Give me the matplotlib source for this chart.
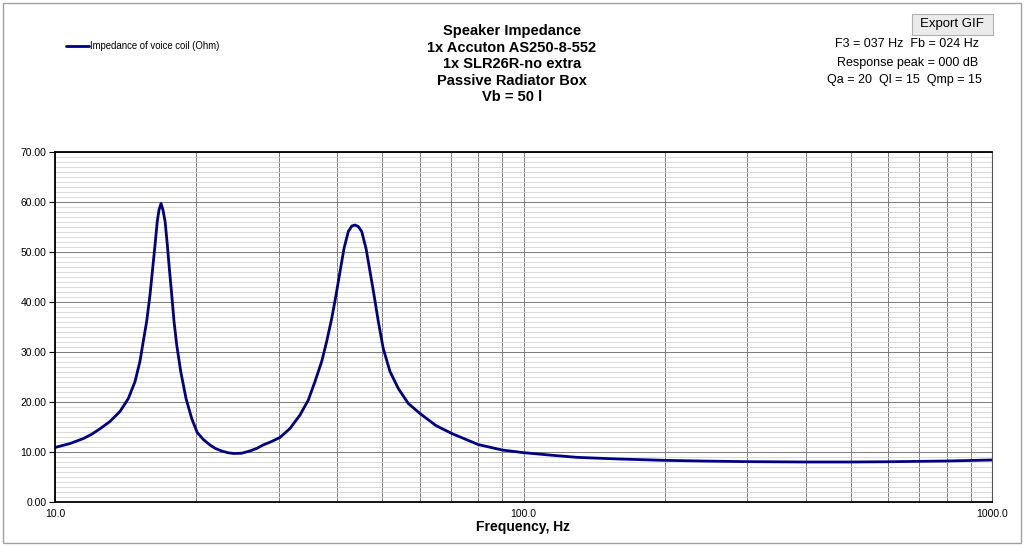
import numpy as np
import matplotlib
matplotlib.use("Agg")
from matplotlib import pyplot as plt
from matplotlib.patches import Rectangle
from matplotlib.ticker import MultipleLocator, FixedLocator, NullFormatter, FormatStrFormatter

plt.rcParams['font.family'] = ['Liberation Sans', 'DejaVu Sans']

# values (Hz, Ohm)
freq = [10.0, 10.77, 11.5, 12.0, 12.5, 13.1, 13.76, 14.34, 14.82, 15.18, 15.43, 15.69, 15.95,
        16.16, 16.35, 16.53, 16.67, 16.84, 17.0, 17.18, 17.37, 17.54, 17.75, 17.95,
        18.19, 18.55, 19.04, 19.58, 20.12, 20.73, 21.42, 22.0, 22.7, 23.4, 24.1, 25.0,
        26.06, 27.0, 27.8, 29.0, 30.2, 31.74, 33.34, 34.73, 35.89, 37.09, 38.01, 38.96,
        39.8, 40.59, 41.39, 42.27, 43.0, 43.69, 44.4, 45.15, 46.12, 47.03, 47.97, 48.99,
        50.19, 51.88, 54.05, 56.77, 60.13, 65.0, 70.3, 80.0, 90.0, 100.0,
        115.0, 130.0, 160.0, 200.0, 250.0, 300.0, 400.0, 500.0, 600.0, 800.0, 1000.0]
impedance = [10.9, 11.7, 12.7, 13.6, 14.7, 16.1, 18.1, 20.7, 24.1, 28.1, 32.1, 36.1, 41.4,
             46.7, 51.4, 56.1, 58.4, 59.7, 58.4, 56.1, 51.4, 46.7, 41.4, 36.1,
             31.4, 26.1, 20.7, 16.7, 13.9, 12.5, 11.4, 10.7, 10.2, 9.85, 9.7, 9.75,
             10.2, 10.75, 11.4, 12.1, 12.9, 14.7, 17.4, 20.4, 24.1, 28.1, 32.1, 36.7,
             41.4, 46.1, 50.7, 54.1, 55.2, 55.4, 55.1, 54.1, 50.7, 46.1, 41.4, 36.1,
             30.7, 26.1, 22.7, 19.7, 17.7, 15.3, 13.7, 11.5, 10.4, 9.87,
             9.35, 8.93, 8.6, 8.33, 8.17, 8.07, 8.0, 8.0, 8.05, 8.2, 8.4]

title_lines = ["Speaker Impedance", "1x Accuton AS250-8-552", "1x SLR26R-no extra",
               "Passive Radiator Box", "Vb = 50 l"]
info_lines = ["F3 = 037 Hz  Fb = 024 Hz", "Response peak = 000 dB", "Qa = 20  Ql = 15  Qmp = 15"]
xtick_vals = [10, 100, 1000]
xtick_labels = ["10.0", "100.0", "1000.0"]

fig = plt.figure(figsize=(10.24, 5.47), dpi=100)
ax = fig.add_axes([55/1024, 1-502/547, 937/1024, 350/547])

ax.plot(freq, impedance, color='#000080', lw=2.0, label='Impedance of voice coil (Ohm)',
        solid_capstyle='round', solid_joinstyle='round')

ax.set_xscale('log')
ax.set_xlim(10, 1000)
ax.set_ylim(0, 70)

# y axis
ax.yaxis.set_major_locator(MultipleLocator(10))
ax.yaxis.set_minor_locator(MultipleLocator(1))
ax.yaxis.set_major_formatter(FormatStrFormatter('%.2f'))
ax.grid(which='minor', axis='y', color='#d4d4d4', lw=0.6)
ax.grid(which='major', axis='y', color='#7a7a7a', lw=0.7)

# x axis
ax.xaxis.set_major_locator(FixedLocator(xtick_vals))
ax.set_xticklabels(xtick_labels)
vminor = [m * d for d in (10, 100) for m in range(2, 10)]
ax.xaxis.set_minor_locator(FixedLocator(vminor))
ax.xaxis.set_minor_formatter(NullFormatter())
ax.grid(which='minor', axis='x', color='#7a7a7a', lw=0.7)
ax.grid(which='major', axis='x', color='#7a7a7a', lw=0.7)
ax.set_axisbelow(True)

ax.tick_params(axis='y', which='major', length=4, width=0.8, labelsize=7.5, pad=2)
ax.tick_params(axis='y', which='minor', length=0)
ax.tick_params(axis='x', which='both', length=0, labelsize=7.5, pad=5)
for s in ['left', 'bottom', 'top']:
    ax.spines[s].set_color('black')
    ax.spines[s].set_linewidth(1.3)
ax.spines['right'].set_color('#555555')
ax.spines['right'].set_linewidth(0.8)

ax.set_xlabel("Frequency, Hz", fontsize=10, fontweight='bold', labelpad=1)

# title block
fig.text(512/1024, 1-24/547, "\n".join(title_lines), ha='center', va='top',
         fontsize=10.5, fontweight='bold', linespacing=1.23)

# legend
fig.legend(loc='center left', bbox_to_anchor=(66/1024, 1-46/547), frameon=False,
           fontsize=6.9, handlelength=2.4, handletextpad=0.1, borderpad=0, borderaxespad=0)

# info text (top right)
btn = Rectangle((912/1024, 1-35/547), 81/1024, 21/547, transform=fig.transFigure,
                facecolor='#ebebeb', edgecolor='#b0b0b0', lw=0.8)
fig.patches.append(btn)
fig.text(952/1024, 1-24/547, "Export GIF", ha='center', va='center', fontsize=9.5)
fig.text(907/1024, 1-44/547, info_lines[0], ha='center', va='center', fontsize=9)
fig.text(908/1024, 1-63/547, info_lines[1], ha='center', va='center', fontsize=9)
fig.text(904/1024, 1-80/547, info_lines[2], ha='center', va='center', fontsize=9)

# outer frame
frame = Rectangle((3/1024, 1-543/547), 1018/1024, 540/547, transform=fig.transFigure,
                  facecolor='none', edgecolor='#a0a0a0', lw=1.0)
fig.patches.append(frame)

fig.savefig("out.png", dpi=100)
